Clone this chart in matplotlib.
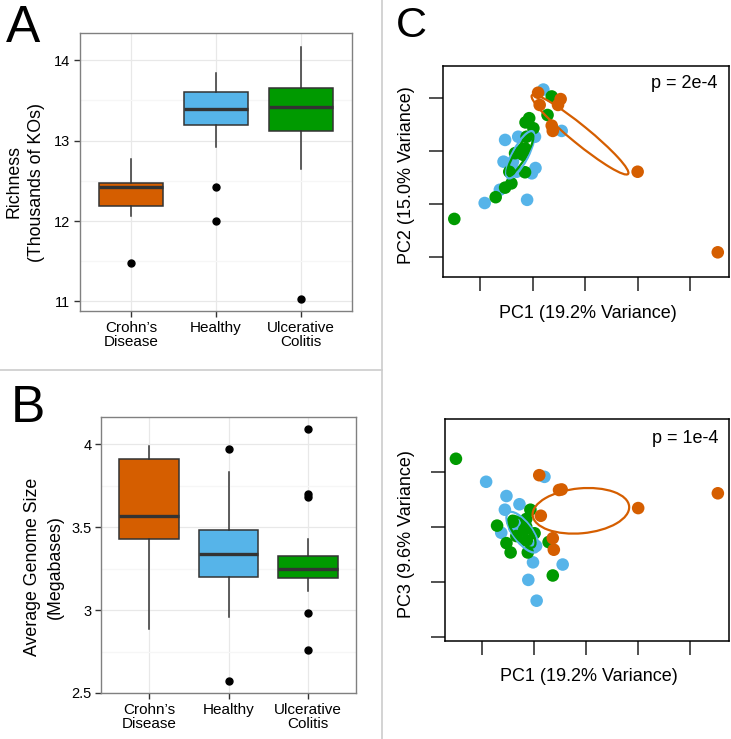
import numpy as np
import matplotlib
matplotlib.use("Agg")
import matplotlib.pyplot as plt
from matplotlib.patches import Ellipse
from matplotlib.lines import Line2D

plt.rcParams['font.family'] = ['Liberation Sans', 'DejaVu Sans']

W, H = 731, 739

groups = ["Crohn\u2019s\nDisease", "Healthy", "Ulcerative\nColitis"]
colors = ["#D55E00", "#56B4E9", "#009A00"]

# A: richness (thousands of KOs)
rich_q1 = [12.19, 13.20, 13.12]
rich_med = [12.42, 13.40, 13.42]
rich_q3 = [12.47, 13.60, 13.65]
rich_lo = [12.06, 12.92, 12.65]
rich_hi = [12.77, 13.84, 14.16]
rich_out = [[11.48], [12.42, 12.00], [11.03]]

# B: average genome size (megabases)
gs_q1 = [3.43, 3.20, 3.194]
gs_med = [3.566, 3.336, 3.246]
gs_q3 = [3.91, 3.485, 3.324]
gs_lo = [2.888, 2.958, 3.113]
gs_hi = [3.99, 3.829, 3.427]
gs_out = [[], [3.968, 2.572], [4.093, 3.702, 3.682, 2.983, 2.757]]

# C: PCA scores, per group (CD, Healthy, UC)
pc1_cd = [0.010, 0.013, 0.036, 0.038, 0.048, 0.053, 0.200, 0.353]
pc2_cd = [0.209, 0.186, 0.147, 0.137, 0.186, 0.197, 0.060, -0.092]
pc3_cd = [0.095, 0.021, -0.020, -0.041, 0.068, 0.069, 0.035, 0.062]

pc1_h = [-0.092, -0.063, -0.056, -0.053, -0.038, -0.031, -0.028,
         -0.021, -0.011, -0.002, 0.004, 0.005, 0.020, 0.055]
pc2_h = [0.001, 0.026, 0.079, 0.120, 0.079, 0.060, 0.126,
         0.101, 0.007, 0.057, 0.126, 0.067, 0.215, 0.137]
pc3_h = [0.083, -0.010, 0.032, 0.057, -0.001, 0.010, 0.042,
         -0.023, -0.096, -0.064, -0.034, -0.134, 0.092, -0.068]

pc1_uc = [-0.150, -0.071, -0.053, -0.045, -0.041, -0.034, -0.019, -0.015,
          -0.015, -0.014, -0.012, -0.007, 0.001, 0.028, 0.036]
pc2_uc = [-0.029, 0.012, 0.030, 0.060, 0.038, 0.095, 0.092, 0.104,
          0.059, 0.153, 0.126, 0.161, 0.142, 0.167, 0.202]
pc3_uc = [0.125, 0.003, -0.029, -0.046, 0.010, -0.016, -0.005, 0.001,
          0.015, -0.024, -0.046, 0.032, -0.011, -0.027, -0.088]

# ellipses: (center x, center y, semi-major, semi-minor, angle deg)
ell_pc2 = [(0.090, 0.130, 0.118, 0.017, -38.9),
           (-0.024, 0.092, 0.050, 0.015, 62),
           (-0.024, 0.092, 0.045, 0.011, 59)]
ell_pc3 = [(0.090, 0.030, 0.093, 0.041, 5),
           (-0.022, -0.009, 0.045, 0.018, -52),
           (-0.023, -0.008, 0.036, 0.015, -50)]

p_pc2 = "p = 2e-4"
p_pc3 = "p = 1e-4"


def fx(px):
    return px / W


def fy(py):
    return 1 - py / H


def axes_px(x0, y0, x1, y1):
    return fig.add_axes([fx(x0), fy(y1), (x1 - x0) / W, (y1 - y0) / H])


def box_panel(ax, q1, med, q3, lo, hi, out, yticks, yminor, ylim):
    stats = []
    for i in range(3):
        stats.append(dict(q1=q1[i], med=med[i], q3=q3[i], whislo=lo[i],
                          whishi=hi[i], fliers=out[i]))
    bp = ax.bxp(stats, positions=[1, 2, 3], widths=0.75, patch_artist=True,
                showcaps=False,
                boxprops=dict(edgecolor='#333333', linewidth=1.1),
                medianprops=dict(color='#333333', linewidth=2.4),
                whiskerprops=dict(color='#333333', linewidth=1.1),
                flierprops=dict(marker='o', markerfacecolor='black',
                                markeredgecolor='black', markersize=5))
    for patch, c in zip(bp['boxes'], colors):
        patch.set_facecolor(c)
    ax.set_xlim(0.4, 3.6)
    ax.set_ylim(*ylim)
    ax.set_xticks([1, 2, 3])
    ax.set_xticklabels(groups, fontsize=11, linespacing=1.05)
    ax.set_yticks(yticks)
    ax.set_yticklabels([f"{t:g}" for t in yticks], fontsize=10.5)
    ax.set_yticks(yminor, minor=True)
    ax.tick_params(which='major', length=4, width=1, color='#333333', pad=3)
    ax.tick_params(which='minor', length=0)
    ax.grid(which='major', color='#E8E8E8', linewidth=0.9)
    ax.grid(which='minor', axis='y', color='#F6F6F6', linewidth=0.9)
    ax.set_axisbelow(True)
    for s in ax.spines.values():
        s.set_color('#808080')
        s.set_linewidth(1.0)


def pca_panel(ax, ys, ells, ptxt, yticks, ylim):
    xs = [pc1_cd, pc1_h, pc1_uc]
    for g in [1, 2, 0]:
        ax.scatter(xs[g], ys[g], s=82, color=colors[g], edgecolor='none', zorder=2)
    for (cx, cy, a, b, ang), c in zip(ells, colors):
        ax.add_patch(Ellipse((cx, cy), 2 * a, 2 * b, angle=ang, fill=False,
                             edgecolor=c, linewidth=1.6, zorder=3))
    ax.set_xlim(-0.171, 0.375)
    ax.set_ylim(*ylim)
    ax.set_xticks([-0.1, 0, 0.1, 0.2, 0.3])
    ax.set_yticks(yticks)
    ax.tick_params(direction='out', length=10, width=1.1, color='#222222',
                   labelbottom=False, labelleft=False)
    for s in ax.spines.values():
        s.set_color('black')
        s.set_linewidth(1.1)
    ax.text(0.96, 0.895, ptxt, transform=ax.transAxes, ha='right',
            va='baseline', fontsize=13)


fig = plt.figure(figsize=(W / 100, H / 100), dpi=100)

axA = axes_px(80, 33, 352, 311)
box_panel(axA, rich_q1, rich_med, rich_q3, rich_lo, rich_hi, rich_out,
          [11, 12, 13, 14], [11.5, 12.5, 13.5], (10.88, 14.34))
fig.text(fx(25.5), fy(182), "Richness\n(Thousands of KOs)", rotation=90,
         ha='center', va='center', fontsize=12.8, linespacing=1.4)

axB = axes_px(101, 417, 356, 693)
box_panel(axB, gs_q1, gs_med, gs_q3, gs_lo, gs_hi, gs_out,
          [2.5, 3, 3.5, 4], [2.75, 3.25, 3.75], (2.5, 4.163))
fig.text(fx(44), fy(567), "Average Genome Size\n(Megabases)", rotation=90,
         ha='center', va='center', fontsize=12.8, linespacing=1.4)

axC1 = axes_px(443.3, 65.7, 729.3, 276.7)
pca_panel(axC1, [pc2_cd, pc2_h, pc2_uc], ell_pc2, p_pc2,
          [-0.1, 0, 0.1, 0.2], (-0.138, 0.260))
fig.text(fx(588.3), fy(313), "PC1 (19.2% Variance)", ha='center',
         va='center', fontsize=13)
fig.text(fx(406.7), fy(175), "PC2 (15.0% Variance)", rotation=90,
         ha='center', va='center', fontsize=13)

axC2 = axes_px(445, 419.3, 729.3, 640.7)
pca_panel(axC2, [pc3_cd, pc3_h, pc3_uc], ell_pc3, p_pc3,
          [-0.2, -0.1, 0, 0.1], (-0.207, 0.197))
fig.text(fx(589), fy(676.5), "PC1 (19.2% Variance)", ha='center',
         va='center', fontsize=13)
fig.text(fx(406.7), fy(534), "PC3 (9.6% Variance)", rotation=90,
         ha='center', va='center', fontsize=13)

# panel letters
fig.text(fx(6), fy(42), "A", fontsize=37, va='baseline', ha='left')
fig.text(fx(11), fy(422), "B", fontsize=37, va='baseline', ha='left')
fig.text(fx(396), fy(37), "C", fontsize=31, va='baseline', ha='left')

# separators
fig.add_artist(Line2D([0, fx(382.3)], [fy(370), fy(370)], color='#CCCCCC',
                      linewidth=1.2))
fig.add_artist(Line2D([fx(382.3), fx(382.3)], [0, 1], color='#CCCCCC',
                      linewidth=1.2))

fig.savefig("out.png", dpi=100)
